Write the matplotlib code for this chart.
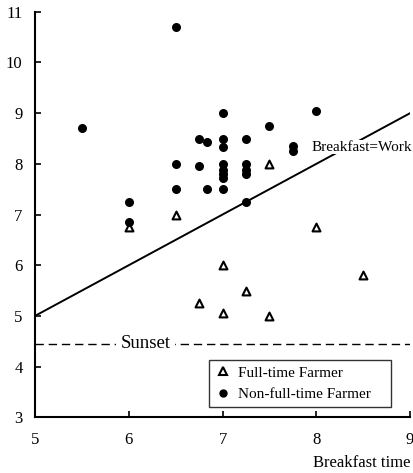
import matplotlib
matplotlib.use("Agg")
import matplotlib.pyplot as plt
from matplotlib.lines import Line2D

# Data
full_x = [6.0, 6.5, 7.5, 8.0, 7.0, 7.25, 6.75, 7.0, 7.5, 8.5]
full_y = [6.75, 7.0, 8.0, 6.75, 6.0, 5.5, 5.25, 5.05, 5.0, 5.8]

non_x = [5.5, 6.5, 7.0, 7.5, 6.75, 6.83, 7.0, 7.0, 7.25, 6.5, 6.75, 7.0, 7.0, 7.0, 7.0,
         7.25, 7.25, 7.25, 6.5, 6.83, 7.0, 7.25, 8.0, 7.75, 7.75, 6.0, 6.0]
non_y = [8.7, 10.7, 9.0, 8.75, 8.5, 8.43, 8.5, 8.33, 8.5, 8.0, 7.95, 8.0, 7.87, 7.8, 7.72,
         8.0, 7.87, 7.79, 7.5, 7.5, 7.5, 7.25, 9.05, 8.35, 8.25, 7.25, 6.85]

equal_line_x = [5, 9]
sunset_level = 4.45

x_ticks = [5, 6, 7, 8, 9]
y_ticks = [3, 4, 5, 6, 7, 8, 9, 10, 11]

plt.rcParams['font.family'] = ['Liberation Serif', 'DejaVu Serif']

fig = plt.figure(figsize=(4.13, 4.73), dpi=100)
ax = fig.add_axes([0.085, 0.118, 0.908, 0.857])

ax.plot(equal_line_x, equal_line_x, color='black', lw=1.4, zorder=2)
ax.axhline(sunset_level, color='black', lw=1.0, ls=(0, (6, 3.5)), zorder=2)

ax.scatter(full_x, full_y, marker='^', s=32, facecolors='white', edgecolors='black',
           linewidths=1.5, zorder=4)
ax.scatter(non_x, non_y, marker='o', s=30, color='black', zorder=4)

ax.text(7.95, 8.33, 'Breakfast=Work', fontsize=11, ha='left', va='center', zorder=3,
        bbox=dict(facecolor='white', edgecolor='none', pad=0.5))
ax.text(5.91, sunset_level, 'Sunset', fontsize=13.5, ha='left', va='center', zorder=3,
        bbox=dict(facecolor='white', edgecolor='none', pad=3))

ax.set_xlim(5, 9)
ax.set_ylim(3, 11)
ax.set_xticks(x_ticks)
ax.set_yticks(y_ticks)
ax.tick_params(direction='in', length=4, width=1.2, labelsize=12)
ax.tick_params(axis='x', pad=11)
ax.tick_params(axis='y', pad=9)
for s in ['top', 'right']:
    ax.spines[s].set_visible(False)
for s in ['left', 'bottom']:
    ax.spines[s].set_linewidth(1.5)

ax.set_xlabel('Breakfast time', fontsize=12, loc='right', labelpad=5)

handles = [
    Line2D([], [], marker='^', ls='none', markersize=5.5, markerfacecolor='white',
           markeredgecolor='black', markeredgewidth=1.5, label='Full-time Farmer'),
    Line2D([], [], marker='o', ls='none', markersize=5, color='black',
           label='Non-full-time Farmer'),
]
leg = ax.legend(handles=handles, loc='lower left', bbox_to_anchor=(0.464, 0.025, 0.485, 0.131),
                mode='expand', fontsize=11, frameon=True, fancybox=False, handlelength=1,
                handletextpad=0.5, borderaxespad=0, labelspacing=0.5, borderpad=0.4)
leg.get_frame().set_edgecolor('black')
leg.get_frame().set_linewidth(1.0)

fig.savefig('out.png', dpi=100)
